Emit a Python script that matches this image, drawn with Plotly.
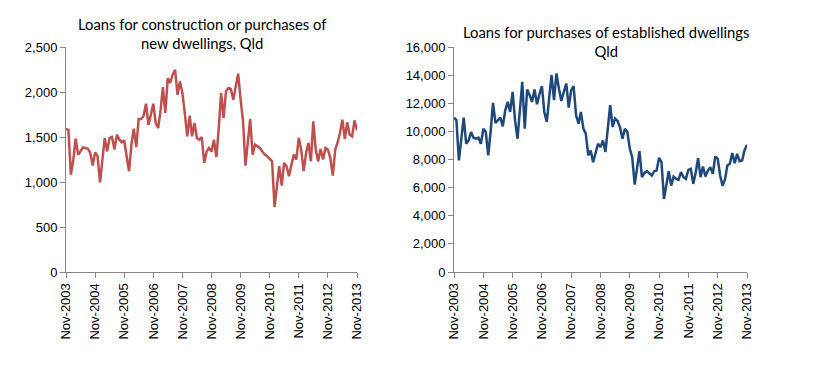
import plotly.graph_objects as go
import pandas as pd

months = pd.date_range("2003-11-01", "2013-11-01", freq="MS")

new_dwellings = [
    1590, 1580, 1082, 1250, 1482, 1304, 1340, 1385, 1378, 1370,
    1323, 1182, 1330, 1286, 997, 1250, 1489, 1340, 1489, 1500,
    1360, 1526, 1470, 1441, 1463, 1286, 1120, 1434, 1593, 1389,
    1700, 1700, 1730, 1870, 1634, 1748, 1870, 1656, 1600, 1804,
    2055, 1767, 2155, 2100, 2192, 2248, 1970, 2118, 1989, 1767,
    1508, 1737, 1508, 1656, 1489, 1470, 1500, 1212, 1340, 1378,
    1340, 1470, 1278, 1618, 1989, 1711, 2007, 2044, 2033, 1915,
    2044, 2203, 1915, 1674, 1182, 1434, 1700, 1304, 1415, 1396,
    1378, 1340, 1304, 1286, 1256, 1230, 723, 990, 1175, 960,
    1212, 1175, 1064, 1193, 1304, 1250, 1489, 1360, 1120, 1323,
    1434, 1230, 1674, 1360, 1230, 1367, 1250, 1378, 1360, 1267,
    1071, 1360, 1434, 1545, 1693, 1478, 1663, 1526, 1508, 1685,
    1574,
]

established = [
    10977, 10800, 7931, 9359, 10977, 9121, 9359, 9954, 9549, 9478,
    9549, 9121, 10192, 9954, 8288, 10073, 12025, 10597, 10787, 10977,
    10359, 11501, 12096, 11382, 12810, 10787, 9478, 11691, 13524, 10192,
    12977, 12572, 12096, 12977, 11929, 12643, 13215, 11382, 10668, 12453,
    14000, 12215, 14119, 13048, 12167, 12810, 13405, 11691, 12929, 13215,
    11144, 10549, 11382, 10192, 9835, 8288, 8645, 7812, 8526, 9121,
    8883, 9359, 8526, 10311, 11858, 10311, 10906, 10739, 10311, 9478,
    10192, 9954, 8764, 8169, 6217, 7455, 8597, 6741, 7027, 7169,
    7027, 6860, 7169, 7217, 8121, 7812, 5194, 6265, 7169, 6146,
    6788, 6622, 6550, 7098, 6741, 6622, 7265, 7336, 6265, 7098,
    8098, 6741, 7503, 6788, 7217, 7455, 6979, 8217, 8050, 6860,
    6122, 6622, 7574, 7693, 8455, 7741, 8407, 7883, 7931, 8645,
    9050,
]

tick_dates = pd.date_range("2003-11-01", "2013-11-01", freq="12MS")
tick_labels = [d.strftime("%b-%Y") for d in tick_dates]

left_title = "Loans for construction or purchases of<br>new dwellings, Qld"
right_title = "Loans for purchases of established dwellings<br>Qld"

fig = go.Figure()
fig.add_trace(go.Scatter(x=months, y=new_dwellings, mode="lines",
                         line=dict(color="#C0504D", width=2.5),
                         xaxis="x", yaxis="y", showlegend=False))
fig.add_trace(go.Scatter(x=months, y=established, mode="lines",
                         line=dict(color="#1F497D", width=2.5),
                         xaxis="x2", yaxis="y2", showlegend=False))

axis_col = "#868686"
tick_font = dict(family="Liberation Sans", size=13, color="#000000")

xcommon = dict(type="date", range=[months[0], months[-1]], tickvals=list(tick_dates),
               ticktext=tick_labels, tickangle=-90, showgrid=False, zeroline=False,
               showline=True, linecolor=axis_col, linewidth=1, ticks="outside",
               ticklen=5, tickcolor=axis_col, tickfont=tick_font, automargin=False)
ycommon = dict(showgrid=False, zeroline=False, showline=True, linecolor=axis_col,
               linewidth=1, ticks="outside", ticklen=5, tickcolor=axis_col,
               tickfont=tick_font, tickformat=",", automargin=False)

# page body adds an ~8px offset; positions below are in figure (paper) pixels
fig.update_layout(
    width=816, height=378,
    margin=dict(l=0, r=0, t=0, b=0),
    paper_bgcolor="white", plot_bgcolor="white",
    xaxis=dict(domain=[58/816, 349/816], anchor="y", **xcommon),
    yaxis=dict(domain=[114/378, 339/378], anchor="x", range=[0, 2500], dtick=500, **ycommon),
    xaxis2=dict(domain=[446/816, 739/816], anchor="y2", **xcommon),
    yaxis2=dict(domain=[114/378, 339/378], anchor="x2", range=[0, 16000], dtick=2000, **ycommon),
    annotations=[
        dict(text=left_title, x=194/816, y=1 - 25/378, xref="paper", yref="paper",
             xanchor="center", yanchor="middle", showarrow=False,
             font=dict(family="Lato", size=14.8, color="#000000")),
        dict(text=right_title, x=598/816, y=1 - 33/378, xref="paper", yref="paper",
             xanchor="center", yanchor="middle", showarrow=False,
             font=dict(family="Lato", size=14.8, color="#000000")),
    ],
)

fig.write_html("out.html")
